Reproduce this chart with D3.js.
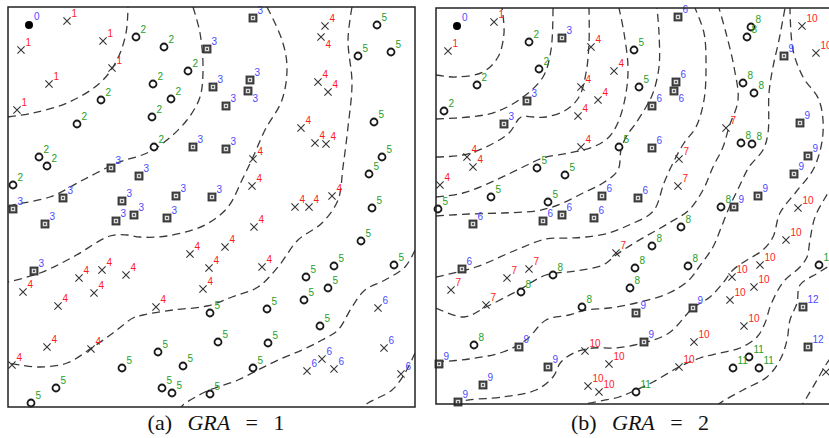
<!DOCTYPE html>
<html>
<head>
<meta charset="utf-8">
<script src="https://cdn.jsdelivr.net/npm/d3@7"></script>
<style>
  body { margin: 0; background: #fff; }
  svg { display: block; }
</style>
</head>
<body>
<script>
// field sizes (units) of the two runs
var fieldA = [407, 400];
var fieldB = [400, 396];

// nodes: [x, y, hop count]
var nodesA = [
  [21,18,0],
  [59,14,1],[13,43,1],[95,34,1],[104,61,1],[41,77,1],[9,103,1],
  [128,30,2],[156,40,2],[180,64,2],[145,77,2],[163,92,2],[93,93,2],[144,110,2],[69,117,2],[146,140,2],[31,150,2],[39,159,2],[5,178,2],
  [199,42,3],[245,11,3],[205,80,3],[242,73,3],[240,84,3],[218,99,3],[218,142,3],[185,140,3],[103,161,3],[131,169,3],[55,191,3],[114,194,3],[168,189,3],[204,190,3],[5,202,3],[37,217,3],[108,214,3],[126,208,3],[159,211,3],[26,264,3],
  [317,19,4],[313,30,4],[310,75,4],[320,85,4],[293,121,4],[307,136,4],[318,137,4],[245,152,4],[244,179,4],[324,189,4],[287,200,4],[301,200,4],[246,220,4],[217,240,4],[254,260,4],[201,261,4],[195,282,4],[182,247,4],[15,285,4],[71,271,4],[94,263,4],[118,268,4],[86,286,4],[50,299,4],[148,300,4],[39,340,4],[83,342,4],[4,358,4],
  [369,18,5],[350,49,5],[383,45,5],[366,115,5],[374,150,5],[361,167,5],[364,201,5],[353,234,5],[326,259,5],[298,270,5],[320,281,5],[296,293,5],[386,258,5],[202,306,5],[259,302,5],[312,319,5],[210,335,5],[260,336,5],[245,361,5],[150,345,5],[114,361,5],[175,359,5],[48,381,5],[154,381,5],[164,386,5],[23,396,5],[202,387,5],
  [370,301,6],[376,341,6],[314,352,6],[299,364,6],[326,362,6],[393,367,6]
];

var nodesB = [
  [21,18,0],
  [58,14,1],[12,43,1],
  [93,34,2],[103,61,2],[41,77,2],[8,103,2],
  [126,30,3],[91,93,3],[68,116,3],
  [155,39,4],[178,63,4],[145,79,4],[162,92,4],[142,108,4],[31,149,4],[37,159,4],[145,139,4],[4,177,4],
  [183,139,5],[101,160,5],[129,167,5],[55,189,5],[112,194,5],[2,201,5],[198,42,5],[203,79,5],
  [166,188,6],[126,207,6],[242,9,6],[240,74,6],[238,83,6],[216,98,6],[216,140,6],[202,190,6],[37,216,6],[107,213,6],[158,210,6],[26,261,6],
  [243,151,7],[242,178,7],[290,120,7],[15,282,7],[71,270,7],[93,261,7],[50,297,7],[180,245,7],
  [315,19,8],[311,29,8],[307,75,8],[318,85,8],[305,135,8],[316,136,8],[285,199,8],[117,267,8],[85,284,8],[146,299,8],[38,337,8],[245,219,8],[216,238,8],[199,260,8],[194,280,8],[252,258,8],
  [298,199,9],[348,48,9],[364,115,9],[372,148,9],[358,166,9],[322,188,9],[83,339,9],[3,356,9],[112,359,9],[47,377,9],[22,394,9],[200,305,9],[257,300,9],[208,334,9],
  [366,18,10],[380,45,10],[362,200,10],[149,343,10],[173,356,10],[152,378,10],[163,384,10],[350,232,10],[324,257,10],[296,269,10],[318,279,10],[294,292,10],[308,318,10],[258,334,10],[243,359,10],[390,364,10],
  [313,349,11],[297,360,11],[323,360,11],[383,257,11],[200,384,11],
  [367,299,12],[372,339,12]
];

// nodes whose hop label sits under the marker
var belowA = [[313,30],[240,84]];
var belowB = [[238,83]];

// hop-count level lines
var contoursA = [
  [[0,110],[25,106],[59,96],[92,76],[109,53],[118,26],[120,0]],
  [[185,0],[192,26],[195,60],[192,90],[179,113],[159,133],[139,146],[109,156],[75,173],[42,190],[5,198],[0,200]],
  [[259,0],[274,33],[279,60],[274,93],[257,123],[245,150],[234,173],[220,200],[197,218],[159,229],[132,230],[119,228],[102,229],[65,250],[32,266],[0,275]],
  [[344,0],[340,33],[344,76],[340,120],[335,160],[330,193],[314,216],[290,233],[270,260],[250,280],[224,290],[199,299],[165,303],[135,308],[125,311],[105,326],[85,340],[59,356],[32,360],[12,358],[0,356]],
  [[407,243],[397,260],[377,273],[357,283],[344,300],[330,323],[314,333],[294,343],[270,353],[250,363],[230,373],[207,381],[197,385],[175,398],[172,402]],
  [[407,346],[397,366],[384,383],[360,396],[352,402]]
];

var contoursB = [
  [[0,67],[20,69],[47,64],[62,49],[68,25],[66,0]],
  [[0,111],[33,109],[60,104],[87,89],[107,69],[115,42],[117,0]],
  [[0,149],[27,147],[50,139],[73,125],[85,109],[97,109],[110,109],[130,102],[143,89],[150,65],[153,35],[153,0]],
  [[0,189],[27,185],[60,172],[87,159],[107,150],[133,145],[157,139],[173,129],[183,112],[190,85],[192,59],[188,25],[183,0]],
  [[0,208],[33,206],[67,205],[100,203],[113,200],[127,195],[147,185],[167,175],[182,162],[185,142],[190,129],[200,115],[210,99],[217,85],[223,59],[223,25],[221,0]],
  [[0,269],[40,259],[80,242],[110,231],[133,230],[150,229],[173,225],[193,217],[213,207],[220,199],[228,175],[237,155],[248,135],[260,119],[268,92],[270,59],[268,25],[259,0]],
  [[0,300],[28,309],[50,299],[83,282],[110,267],[140,263],[167,257],[180,247],[200,234],[233,215],[253,202],[267,182],[277,159],[287,139],[293,119],[302,92],[298,59],[290,25],[283,0]],
  [[0,354],[33,351],[67,344],[90,332],[110,312],[133,307],[150,302],[173,300],[200,295],[233,285],[253,272],[263,259],[277,239],[285,220],[293,200],[303,179],[313,159],[327,142],[332,125],[333,85],[337,59],[343,32],[349,0]],
  [[20,400],[25,394],[67,389],[100,382],[117,369],[125,354],[140,344],[157,340],[180,340],[207,335],[233,325],[257,300],[274,289],[287,275],[297,262],[311,252],[327,242],[337,229],[344,205],[360,184],[378,160],[387,125],[383,92],[367,69],[357,42],[354,0]],
  [[140,400],[150,396],[183,389],[200,382],[217,374],[243,359],[264,350],[284,345],[304,340],[321,329],[329,315],[334,299],[342,282],[349,272],[364,259],[371,249],[374,232],[379,209],[389,190],[398,176]],
  [[402,252],[393,258],[382,265],[364,277],[361,295],[354,312],[351,332],[344,352],[331,369],[307,382],[284,395],[278,400]],
  [[402,340],[391,355],[381,372],[371,389],[364,400]]
];

// marker per hop count
var shapesA = ['dot','x','o','box','x','o','x'];
function shapeB(h) { return h === 0 ? 'dot' : ['box','x','o'][h % 3]; }
var hopColors = ['#4a4aff', '#ff1a1a', '#1f9e1f'];

var W = 829, H = 438;
var svg = d3.select('body').append('svg').attr('width', W).attr('height', H);
svg.append('rect').attr('width', W).attr('height', H).attr('fill', '#fff');

function drawPanel(id, origin, field, nodes, contours, shapeOf, below) {
  var x = d3.scaleLinear().domain([0, field[0]]).range([0, field[0]]);
  var y = d3.scaleLinear().domain([0, field[1]]).range([0, field[1]]);
  var g = svg.append('g').attr('transform', 'translate(' + origin[0] + ',' + origin[1] + ')');

  g.append('clipPath').attr('id', id)
    .append('rect').attr('width', field[0]).attr('height', field[1]);

  var line = d3.line()
    .x(function(d) { return x(d[0]); })
    .y(function(d) { return y(d[1]); })
    .curve(d3.curveCatmullRom.alpha(0.5));

  g.append('g').attr('clip-path', 'url(#' + id + ')')
    .selectAll('path').data(contours).join('path')
    .attr('d', line)
    .attr('fill', 'none')
    .attr('stroke', '#3a3a3a')
    .attr('stroke-width', 1.3)
    .attr('stroke-dasharray', '8,5');

  var isBelow = function(d) {
    return below.some(function(b) { return b[0] === d[0] && b[1] === d[1]; });
  };

  var marks = g.append('g').selectAll('g').data(nodes).join('g')
    .attr('transform', function(d) { return 'translate(' + x(d[0]) + ',' + y(d[1]) + ')'; });

  marks.each(function(d) {
    var m = d3.select(this), s = shapeOf(d[2]);
    if (s === 'dot') {
      m.append('circle').attr('r', 4).attr('fill', '#000');
    } else if (s === 'x') {
      m.append('path').attr('d', 'M-3.6,-3.6L3.6,3.6M-3.6,3.6L3.6,-3.6')
        .attr('stroke', '#333').attr('stroke-width', 1.1).attr('fill', 'none');
    } else if (s === 'o') {
      m.append('circle').attr('r', 3.5).attr('fill', '#fff')
        .attr('stroke', '#1a1a1a').attr('stroke-width', 1.8);
    } else {
      m.append('rect').attr('x', -4).attr('y', -4).attr('width', 8).attr('height', 8)
        .attr('fill', '#4a4a4a').attr('stroke', '#2a2a2a').attr('stroke-width', 0.8);
      m.append('rect').attr('x', -2.2).attr('y', -2.2).attr('width', 4.4).attr('height', 4.4)
        .attr('fill', '#dcdcdc');
      m.append('circle').attr('r', 1).attr('fill', '#333');
    }
  });

  marks.append('text')
    .attr('x', function(d) { return shapeOf(d[2]) === 'dot' ? 5 : 4.5; })
    .attr('y', function(d) {
      if (isBelow(d)) return 11;
      return shapeOf(d[2]) === 'dot' ? -5 : -4;
    })
    .attr('fill', function(d) { return hopColors[d[2] % 3]; })
    .style('font-family', '"Liberation Sans", Arial, sans-serif')
    .style('font-size', '10px')
    .text(function(d) { return d[2]; });

  g.append('rect')
    .attr('width', field[0]).attr('height', field[1])
    .attr('fill', 'none').attr('stroke', '#222').attr('stroke-width', 1.5);
}

drawPanel('clipA', [8, 7], fieldA, nodesA, contoursA, function(h) { return shapesA[h]; }, belowA);
drawPanel('clipB', [436, 8], fieldB, nodesB, contoursB, shapeB, belowB);

// sub-figure captions under each panel
function caption(cx, tag, val) {
  var t = svg.append('text')
    .attr('x', cx).attr('y', 430)
    .attr('text-anchor', 'middle')
    .attr('fill', '#111')
    .style('font-family', '"Liberation Serif", "DejaVu Serif", serif')
    .style('font-size', '22px');
  t.append('tspan').text('(' + tag + ')\u2002\u2009');
  t.append('tspan').style('font-style', 'italic').text('GRA');
  t.append('tspan').text('\u2002\u2009=\u2002\u2009' + val);
}
caption(216, 'a', 1);
caption(640, 'b', 2);
</script>
</body>
</html>
